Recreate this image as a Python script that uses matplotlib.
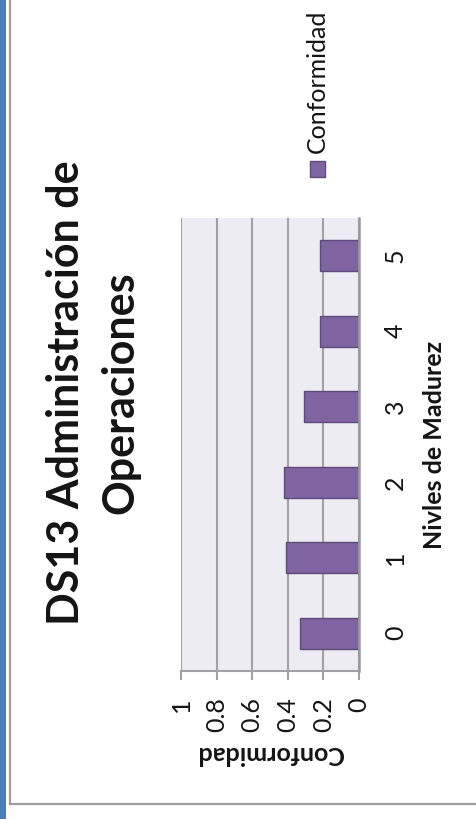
import matplotlib
matplotlib.use("Agg")
import matplotlib.pyplot as plt
from matplotlib.lines import Line2D
from matplotlib.patches import Rectangle

# Data
niveles = [0, 1, 2, 3, 4, 5]
conformidad = [0.33, 0.41, 0.42, 0.31, 0.22, 0.22]
value_ticks = [0, 0.2, 0.4, 0.6, 0.8, 1]
value_tick_labels = ["0", "0.2", "0.4", "0.6", "0.8", "1"]
title = "DS13 Administración de\nOperaciones"
series_name = "Conformidad"
category_title = "Nivles de Madurez"
value_title = "Conformidad"

plt.rcParams["font.family"] = ["Lato", "DejaVu Sans"]

W, H, DPI = 476, 819, 100
fig = plt.figure(figsize=(W / DPI, H / DPI), dpi=DPI)
fig.patch.set_facecolor("white")

def fx(px):
    return px / W

def fy(py):
    return 1 - py / H

TXT = "#141414"

# Page decorations: blue strip and grey frame
fig.add_artist(Rectangle((0, 0), fx(5.5), 1, transform=fig.transFigure,
                         facecolor="#4A7EBB", edgecolor="none"))
fig.add_artist(Line2D([fx(9.5), fx(9.5)], [1, fy(803.5)], transform=fig.transFigure,
                      color="#9E9E9E", lw=1.6))
fig.add_artist(Line2D([fx(9.5), 1], [fy(803.5), fy(803.5)], transform=fig.transFigure,
                      color="#9E9E9E", lw=1.6))

# Plot area (chart is laid out turned a quarter turn)
x0, x1, y0, y1 = 181, 359, 218, 671
ax = fig.add_axes([fx(x0), fy(y1), fx(x1) - fx(x0), (y1 - y0) / H])
ax.set_facecolor("#ECECF2")

ax.barh(niveles, conformidad, height=0.405, color="#8064A2",
        edgecolor="#5E4A7D", linewidth=1.0, zorder=3, label=series_name)

ax.set_xlim(1, 0)
ax.set_ylim(-0.5, 5.5)

ax.set_xticks(value_ticks)
ax.set_xticklabels(value_tick_labels)
ax.xaxis.grid(True, color="#A2A2A6", linewidth=1.5, zorder=1)
ax.yaxis.grid(False)

for side in ["top", "left"]:
    ax.spines[side].set_visible(False)
ax.spines["bottom"].set_color("#A2A2A6")
ax.spines["bottom"].set_linewidth(1.5)
ax.spines["right"].set_color("#9A9A9E")
ax.spines["right"].set_linewidth(1.8)
ax.spines["right"].set_zorder(4)

ax.tick_params(axis="x", direction="out", length=6.5, width=1.5, color="#A2A2A6",
               pad=12.5, labelsize=18, labelrotation=90, labelcolor=TXT)
for lbl in ax.get_xticklabels():
    lbl.set_verticalalignment("top")
    lbl.set_horizontalalignment("center")

ax.yaxis.tick_right()
ax.set_yticks(niveles)
ax.set_yticklabels([str(n) for n in niveles])
ax.tick_params(axis="y", length=0, pad=18, labelsize=18, labelrotation=90,
               labelcolor=TXT)
for lbl in ax.get_yticklabels():
    lbl.set_verticalalignment("center")

# Axis titles
fig.text(fx(270), fy(754), value_title, rotation=180, ha="center", va="center",
         fontsize=18, fontweight="bold", color=TXT)
fig.text(fx(434), fy(445), category_title, rotation=90, ha="center", va="center",
         fontsize=18, fontweight="bold", color=TXT)

# Chart title
fig.text(fx(93), fy(393), title, rotation=90, ha="center", va="center",
         multialignment="center", fontsize=31, fontweight="bold",
         color=TXT, linespacing=1.42)

# Legend
fig.add_artist(Rectangle((fx(309.5), fy(176.5)), fx(15), 15 / H, transform=fig.transFigure,
                         facecolor="#8064A2", edgecolor="#5E4A7D", linewidth=1.0))
fig.text(fx(317), fy(153), series_name, rotation=90, ha="center", va="bottom",
         fontsize=18, color=TXT)

fig.savefig("out.png", dpi=DPI)
